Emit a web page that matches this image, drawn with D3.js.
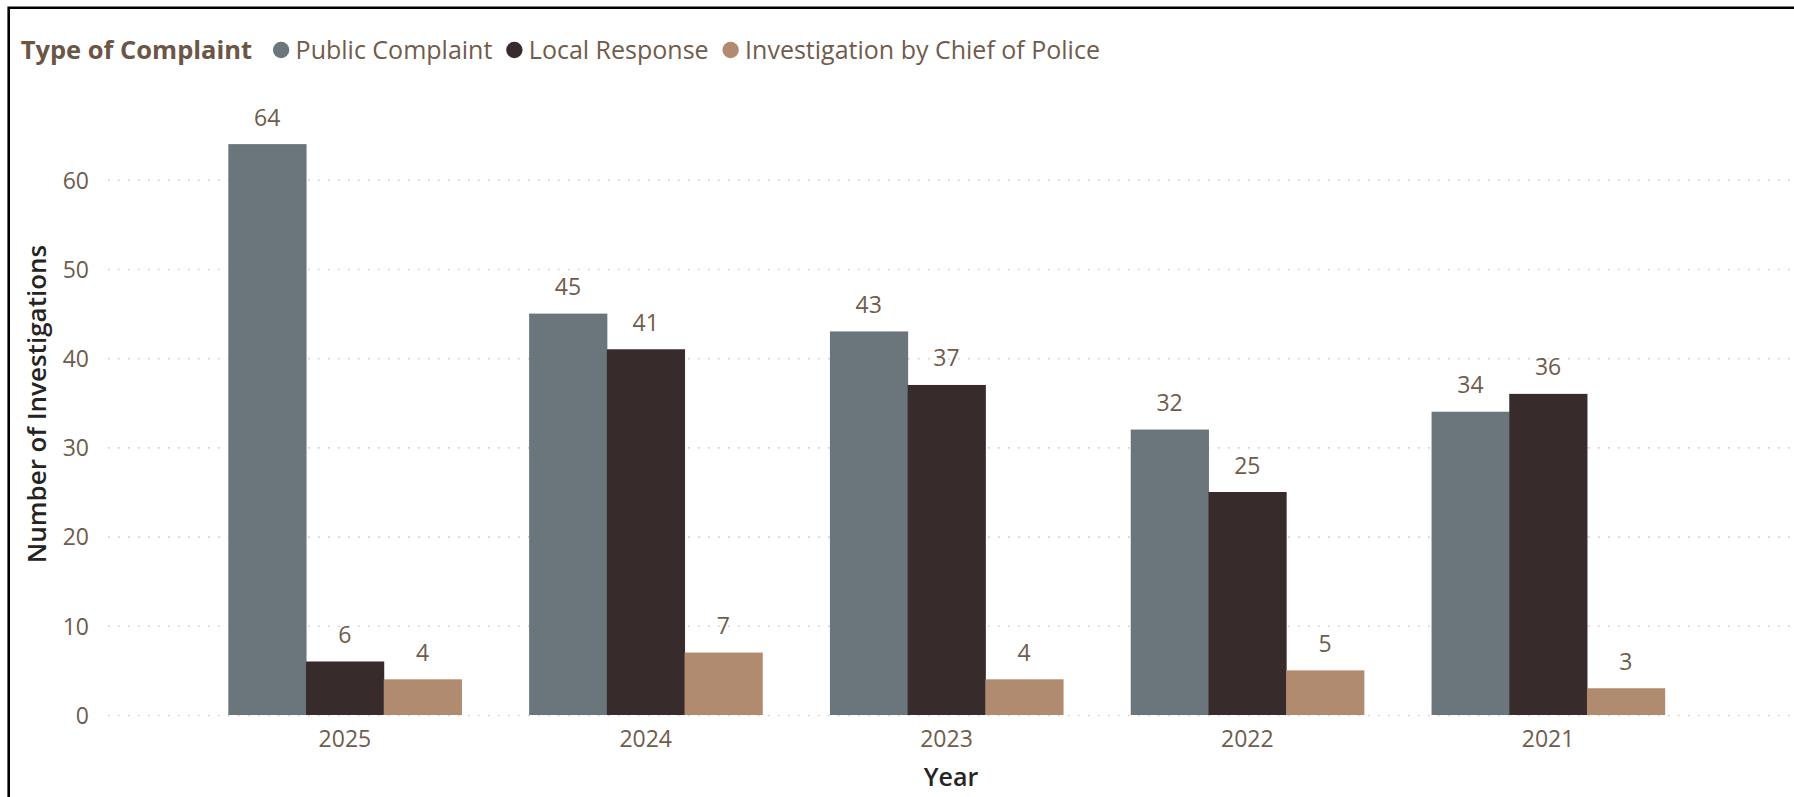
<!DOCTYPE html>
<html>
<head>
<meta charset="utf-8">
<script src="https://cdn.jsdelivr.net/npm/d3@7"></script>
<style>
  html, body { margin: 0; padding: 0; background: #ffffff; }
  svg { display: block; }
  text { font-family: "Segoe UI", "Open Sans", sans-serif; }
</style>
</head>
<body>
<svg id="chart" width="1794" height="797"></svg>
<script>
// Investigations per year, split by type of complaint
const years = ["2025", "2024", "2023", "2022", "2021"];
const seriesNames = ["Public Complaint", "Local Response", "Investigation by Chief of Police"];
const publicComplaint = [64, 45, 43, 32, 34];
const localResponse = [6, 41, 37, 25, 36];
const chiefInvestigation = [4, 7, 4, 5, 3];
const yTicks = [0, 10, 20, 30, 40, 50, 60];
const legendTitle = "Type of Complaint";
const xTitle = "Year";
const yTitle = "Number of Investigations";

const seriesValues = [publicComplaint, localResponse, chiefInvestigation];
const colors = ["#6A767B", "#372C2B", "#B08B6F"];
const textBrown = "#705C4C";
const titleDark = "#252423";

const W = 1794, H = 797;
const svg = d3.select("#chart");

// frame (top and left edges)
svg.append("path")
  .attr("d", `M8.7,${H} L8.7,7.8 L${W},7.8`)
  .attr("fill", "none")
  .attr("stroke", "#000")
  .attr("stroke-width", 2.6);

const plot = { left: 108, right: 1785, top: 90.6, bottom: 715 };

const x = d3.scaleBand()
  .domain(years)
  .range([plot.left, plot.right])
  .paddingInner(0.225)
  .paddingOuter(0.4);

const xSub = d3.scaleBand()
  .domain(seriesNames)
  .range([0, x.bandwidth()])
  .padding(0);

const y = d3.scaleLinear()
  .domain([0, 70])
  .range([plot.bottom, plot.top]);

// dotted gridlines
const yAxis = d3.axisLeft(y).tickValues(yTicks).tickSize(0).tickPadding(0);
const gy = svg.append("g").attr("transform", `translate(${plot.left},0)`).call(yAxis);
gy.select(".domain").remove();
gy.selectAll(".tick line")
  .attr("x2", W - plot.left)
  .attr("stroke", "#CFCFCF")
  .attr("stroke-width", 1.6)
  .attr("stroke-dasharray", "1.6 8.4");
gy.selectAll(".tick text")
  .attr("x", 89 - plot.left)
  .attr("dy", "0.36em")
  .attr("text-anchor", "end")
  .attr("fill", textBrown)
  .style("font-size", "23px")
  .style("font-family", "'Segoe UI', 'Open Sans', sans-serif");

// x axis labels
const xAxis = d3.axisBottom(x).tickSize(0).tickPadding(0);
const gx = svg.append("g").attr("transform", `translate(0,${plot.bottom})`).call(xAxis);
gx.select(".domain").remove();
gx.selectAll(".tick text")
  .attr("y", 32)
  .attr("dy", 0)
  .attr("fill", textBrown)
  .style("font-size", "23px")
  .style("font-family", "'Segoe UI', 'Open Sans', sans-serif");

// bars
const rows = years.map((yr, i) => ({
  year: yr,
  items: seriesNames.map((s, j) => ({ series: s, value: seriesValues[j][i], color: colors[j] }))
}));

const groups = svg.append("g").selectAll("g")
  .data(rows).join("g")
  .attr("transform", d => `translate(${x(d.year)},0)`);

groups.selectAll("rect")
  .data(d => d.items).join("rect")
  .attr("x", d => xSub(d.series))
  .attr("width", xSub.bandwidth() + 0.5)
  .attr("y", d => y(d.value))
  .attr("height", d => y(0) - y(d.value))
  .attr("fill", d => d.color);

groups.selectAll("text.value")
  .data(d => d.items).join("text")
  .attr("class", "value")
  .attr("x", d => xSub(d.series) + xSub.bandwidth() / 2)
  .attr("y", d => y(d.value) - 18.5)
  .attr("text-anchor", "middle")
  .attr("fill", textBrown)
  .style("font-size", "23px")
  .text(d => d.value);

// axis titles
svg.append("text")
  .attr("x", (plot.left + W) / 2)
  .attr("y", 786)
  .attr("text-anchor", "middle")
  .attr("fill", titleDark)
  .style("font-size", "25px")
  .style("font-weight", 600)
  .text(xTitle);

svg.append("text")
  .attr("transform", "translate(46,404) rotate(-90)")
  .attr("text-anchor", "middle")
  .attr("fill", titleDark)
  .style("font-size", "26px")
  .style("font-weight", 600)
  .text(yTitle);

// legend
const legend = svg.append("g");
const baseY = 59;
const lt = legend.append("text")
  .attr("x", 20.7)
  .attr("y", baseY)
  .attr("fill", "#6B5646")
  .style("font-size", "25.5px")
  .style("font-weight", 700)
  .text(legendTitle);
let cursor = 20.7 + lt.node().getComputedTextLength() + 29;
seriesNames.forEach((s, j) => {
  legend.append("circle")
    .attr("cx", cursor)
    .attr("cy", 50)
    .attr("r", 8.2)
    .attr("fill", colors[j]);
  const t = legend.append("text")
    .attr("x", cursor + 14.5)
    .attr("y", baseY)
    .attr("fill", textBrown)
    .style("font-size", "25px")
    .text(s);
  cursor = cursor + 14.5 + t.node().getComputedTextLength() + 22;
});
</script>
</body>
</html>
